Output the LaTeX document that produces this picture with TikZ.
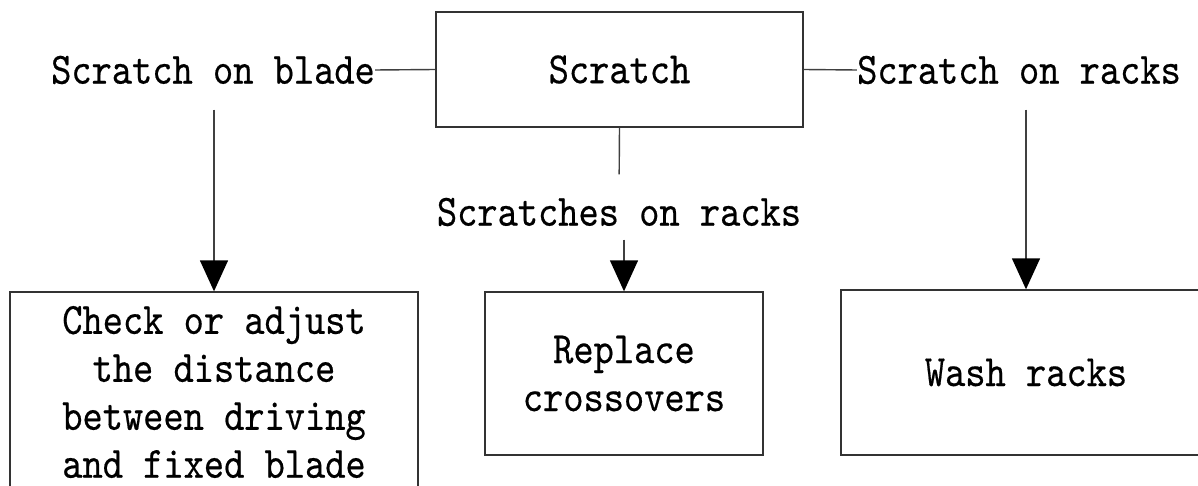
\documentclass[tikz,border=0pt]{standalone}
\usepackage{fontspec}
\usetikzlibrary{arrows.meta}
\newfontfamily\boxfont{lmmono10-regular.otf}[FakeStretch=0.86,FakeBold=0.4]
\tikzset{
box/.style={draw=black!80, line width=0.8pt, inner sep=0pt, align=center, font=\boxfont\fontsize{25.5}{27.3}\selectfont},
lbl/.style={inner sep=0pt, font=\boxfont\fontsize{25.5}{27.3}\selectfont},
link/.style={draw=black!75, line width=0.8pt},
arr/.style={link, -{Triangle[width=0.56cm,length=0.62cm,color=black]}}
}

\begin{document}
\begin{tikzpicture}[x=0.02cm,y=-0.02cm]
\useasboundingbox (0,0) rectangle (1198,486);
%boxes
\node[box, minimum width=7.34cm, minimum height=2.3cm] (scratch) at (619.5,69.5) {Scratch};
\node[box, minimum width=8.16cm, minimum height=4cm] (check) at (214,392) {Check or adjust\\the distance\\between driving\\and fixed blade};
\node[box, minimum width=5.56cm, minimum height=3.26cm] (replace) at (624,373.5) {Replace\\crossovers};
\node[box, minimum width=7.4cm, minimum height=3.3cm] (wash) at (1026,372.5) {Wash racks};
%labels
\node[lbl] (blade) at (213,70) {Scratch on blade};
\node[lbl] (racks) at (1019,70) {Scratch on racks};
\node[lbl] (scratches) at (619,212) {Scratches on racks};
%connectors
\draw[link] (blade.east) -- (scratch.west);
\draw[link] (scratch.east) -- (racks.west);
\draw[link, shorten >=0.46cm] (scratch.south) -- (scratches.north);
\draw[arr, shorten <=0.26cm] (replace.north |- scratches.south) -- (replace.north);
\draw[arr, shorten <=0.5cm] (check.north |- blade.south) -- (check.north);
\draw[arr, shorten <=0.5cm] (wash.north |- racks.south) -- (wash.north);
\end{tikzpicture}
\end{document}
